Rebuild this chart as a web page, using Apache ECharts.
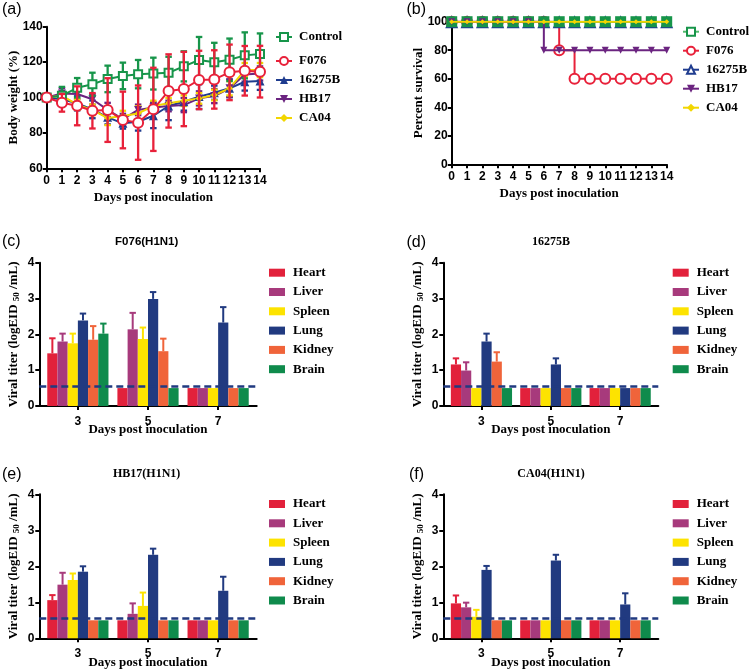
<!DOCTYPE html>
<html><head><meta charset="utf-8">
<script src="https://cdn.jsdelivr.net/npm/echarts@6/dist/echarts.min.js"></script>
<style>html,body{margin:0;padding:0;background:#fff}#c{width:750px;height:671px}</style>
</head><body><div id="c"></div>
<script>
// ---------- DATA ----------
const days = [0,1,2,3,4,5,6,7,8,9,10,11,12,13,14];
const groups = ['Control','F076','16275B','HB17','CA04'];

const weightControl    = [100,101,105.5,107.5,110.5,112.2,113.2,113.5,114,117.6,121.2,119.9,121.3,123.8,124.6];
const weightControlErr = [0,5,5.5,6.5,7.5,7.5,8,9,9,8.5,13,11,12,13,11.6];
const weightF076       = [100,97,95.3,92.5,92.9,87.3,85.8,93.3,103.7,104.8,109.9,110.2,114.2,115.1,114.6];
const weightF076Err    = [0,5,11,10,18,16,21,23.5,20.7,21,16.5,16.5,15.7,14,14.6];
const weight16275B     = [100,99,96.7,93.3,88.8,85.4,86.3,89.7,95.2,97.6,100.5,102.7,105.2,108.9,109.3];
const weight16275BErr  = [0,3,4,5,4,3,5,7,8,5,7,4,5,5,5];
const weightHB17       = [100,102.3,102,99,93,87.8,93,94.4,95.2,95.7,99.5,100.8,105.2,113,113.6];
const weightHB17Err    = [0,3,3,3,4,3,3,3,3,4,4,4,5,4,4];
const weightCA04       = [100,101,96,93,88.4,89.5,91,95.2,96.7,98.2,99.5,101.4,105.2,115.5,115.5];
const weightCA04Err    = [0,2,3,3,4,3,4,3,3,3,3,3,4,4,4];

const survControl = [100,100,100,100,100,100,100,100,100,100,100,100,100,100,100];
const survF076    = [100,100,100,100,100,100,100,80,60,60,60,60,60,60,60];
const surv16275B  = [100,100,100,100,100,100,100,100,100,100,100,100,100,100,100];
const survHB17    = [100,100,100,100,100,100,80,80,80,80,80,80,80,80,80];
const survCA04    = [100,100,100,100,100,100,100,100,100,100,100,100,100,100,100];

const titerDays = [3,5,7];
const organs = ['Heart','Liver','Spleen','Lung','Kidney','Brain'];
// rows: organs, columns: days 3,5,7
const titerF076 = [[1.47,0.5,0.5],[1.80,2.14,0.5],[1.75,1.87,0.5],[2.39,2.99,2.33],[1.85,1.53,0.5],[2.02,0.5,0.5]];
const titerF076Err = [[0.42,0,0],[0.22,0.46,0],[0.27,0.32,0],[0.19,0.19,0.43],[0.38,0.35,0],[0.28,0,0]];
const titer16275B = [[1.16,0.5,0.5],[0.99,0.5,0.5],[0.5,0.5,0.5],[1.80,1.16,0.5],[1.24,0.5,0.5],[0.5,0.5,0.5]];
const titer16275BErr = [[0.17,0,0],[0.23,0,0],[0,0,0],[0.22,0.17,0],[0.26,0,0],[0,0,0]];
const titerHB17 = [[1.06,0.5,0.5],[1.49,0.68,0.5],[1.62,0.90,0.5],[1.85,2.32,1.32],[0.5,0.5,0.5],[0.5,0.5,0.5]];
const titerHB17Err = [[0.14,0,0],[0.33,0.29,0],[0.18,0.37,0],[0.15,0.17,0.39],[0,0,0],[0,0,0]];
const titerCA04 = [[0.97,0.5,0.5],[0.86,0.5,0.5],[0.60,0.5,0.5],[1.90,2.16,0.94],[0.5,0.5,0.5],[0.5,0.5,0.5]];
const titerCA04Err = [[0.22,0,0],[0.13,0,0],[0.19,0,0],[0.11,0.16,0.31],[0,0,0],[0,0,0]];
const detectionLimit = 0.55;

const weightTicks = [60,80,100,120,140];
const survivalTicks = [0,20,40,60,80,100];
const titerTicks = [0,1,2,3,4];

// ---------- STYLE ----------
const sans = 'Liberation Sans, Arial, sans-serif';
const serif = 'Liberation Serif, Times New Roman, serif';
const groupColors = ['#17954a','#e8213a','#1f3c8f','#6b2480','#f2d600'];
const organColors = ['#e2213b','#a73a7c','#fde300','#213a80','#f0643a','#0f8b4c'];
const barW = 10.2;

const chart = echarts.init(document.getElementById('c'), null, {renderer:'canvas'});

const gridBoxes = [
  {left:46.7, top:26.7, width:213.3, height:141.6},
  {left:451.7, top:21.7, width:215, height:142.6},
  {left:39.3, top:262.7, width:217.4, height:143.3},
  {left:443.3, top:262.7, width:215, height:143.3},
  {left:39.3, top:494.3, width:217.4, height:144},
  {left:443.3, top:494.3, width:215, height:144}
];
const grid = gridBoxes.map(g => Object.assign({containLabel:false, outerBoundsMode:'none'}, g));

const axisLine = {show:true, onZero:false, lineStyle:{color:'#000', width:2}};
const axisTick = {show:true, inside:false, length:4, lineStyle:{color:'#000', width:2}};
const lbl = m => ({color:'#000', fontFamily:sans, fontWeight:'bold', fontSize:12, margin:m});
const nameStyle = {color:'#000', fontFamily:serif, fontWeight:'bold', fontSize:13};

const xAxis = [];
const yAxis = [];
[0,1].forEach(i => {
  xAxis.push({gridIndex:i, type:'value', min:0, max:14, interval:1, axisLine, axisTick,
    axisLabel:lbl(6.5), splitLine:{show:false}, name:'Days post inoculation',
    nameLocation:'middle', nameMoveOverlap:false, nameGap:23, nameTextStyle:nameStyle});
});
yAxis.push({gridIndex:0, type:'value', min:weightTicks[0], max:weightTicks[weightTicks.length-1], interval:20,
  axisLine, axisTick, axisLabel:lbl(4), splitLine:{show:false}, name:'Body weight (%)',
  nameLocation:'middle', nameMoveOverlap:false, nameRotate:90, nameGap:27, nameTextStyle:nameStyle});
yAxis.push({gridIndex:1, type:'value', min:survivalTicks[0], max:survivalTicks[survivalTicks.length-1], interval:20,
  axisLine, axisTick, axisLabel:lbl(4), splitLine:{show:false}, name:'Percent survival',
  nameLocation:'middle', nameMoveOverlap:false, nameRotate:90, nameGap:27, nameTextStyle:nameStyle});
[2,3,4,5].forEach(i => {
  xAxis.push({gridIndex:i, type:'value', min:1.9, max:8.1, axisLine,
    axisTick:Object.assign({customValues:titerDays}, axisTick),
    axisLabel:Object.assign({customValues:titerDays}, lbl(9.5)), splitLine:{show:false},
    name:'Days post inoculation', nameLocation:'middle', nameMoveOverlap:false, nameGap:17.5, nameTextStyle:nameStyle});
  yAxis.push({gridIndex:i, type:'value', min:titerTicks[0], max:titerTicks[titerTicks.length-1], interval:1,
    axisLine, axisTick, axisLabel:lbl(5), splitLine:{show:false},
    name:'Viral titer (logEID {sub|50} /mL)', nameLocation:'middle', nameMoveOverlap:false, nameRotate:90, nameGap:18.5,
    nameTextStyle:Object.assign({}, nameStyle, {rich:{sub:{fontFamily:serif, fontWeight:'bold', fontSize:9, color:'#000', padding:[6,0,0,0]}}})});
});

const series = [];

// error bar renderer (symmetric)
function symErr(color, capW, lw){
  return function(params, api){
    const x = api.value(0), y = api.value(1), e = api.value(2);
    if (!(e > 0)) return null;
    const lo = api.coord([x, y - e]), hi = api.coord([x, y + e]);
    const st = {stroke:color, lineWidth:lw};
    return {type:'group', children:[
      {type:'line', shape:{x1:lo[0], y1:lo[1], x2:hi[0], y2:hi[1]}, style:st},
      {type:'line', shape:{x1:hi[0]-capW/2, y1:hi[1], x2:hi[0]+capW/2, y2:hi[1]}, style:st},
      {type:'line', shape:{x1:lo[0]-capW/2, y1:lo[1], x2:lo[0]+capW/2, y2:lo[1]}, style:st}
    ]};
  };
}
function barErr(k, color){
  return function(params, api){
    const x = api.value(0), y = api.value(1), e = api.value(2);
    if (!(e > 0)) return null;
    const p0 = api.coord([x, y]), p1 = api.coord([x, y + e]);
    const cx = p0[0] + (k - 2.5) * barW;
    const st = {stroke:color, lineWidth:2};
    return {type:'group', children:[
      {type:'line', shape:{x1:cx, y1:p0[1], x2:cx, y2:p1[1]}, style:st},
      {type:'line', shape:{x1:cx-3.2, y1:p1[1], x2:cx+3.2, y2:p1[1]}, style:st}
    ]};
  };
}

// Panel (a)
const weightMeans = [weightControl, weightF076, weight16275B, weightHB17, weightCA04];
const weightErrs = [weightControlErr, weightF076Err, weight16275BErr, weightHB17Err, weightCA04Err];
const symA = [
  {symbol:'emptyRect', size:8, rotate:0},
  {symbol:'emptyCircle', size:10, rotate:0},
  {symbol:'triangle', size:9, rotate:0},
  {symbol:'triangle', size:8, rotate:180},
  {symbol:'diamond', size:7, rotate:0}
];
const zA = [4,6,3,3,3];
groups.forEach((g, i) => {
  series.push({type:'custom', xAxisIndex:0, yAxisIndex:0, z:zA[i], silent:true,
    renderItem:symErr(groupColors[i], 6.5, 2.3),
    data:days.map((d, j) => [d, weightMeans[i][j], weightErrs[i][j]])});
  series.push({type:'line', name:g, xAxisIndex:0, yAxisIndex:0, z:zA[i]+0.5,
    symbol:symA[i].symbol, symbolSize:symA[i].size, symbolRotate:symA[i].rotate, showAllSymbol:true,
    itemStyle:{color:groupColors[i], borderWidth:2}, lineStyle:{color:groupColors[i], width:2},
    data:days.map((d, j) => [d, weightMeans[i][j]])});
});

// Panel (b)
const survs = [survControl, survF076, surv16275B, survHB17, survCA04];
const survLine = ['#52b86c','#e8213a','#1f3c8f','#6b2480','#f2d600'];
const symB = [
  {symbol:'rect', size:11, rotate:0, z:5},
  {symbol:'emptyCircle', size:10, rotate:0, z:3},
  {symbol:'triangle', size:13, rotate:0, z:4},
  {symbol:'triangle', size:7, rotate:180, z:6},
  {symbol:'diamond', size:5, rotate:0, z:7}
];
groups.forEach((g, i) => {
  series.push({type:'line', name:g + ' ', xAxisIndex:1, yAxisIndex:1, z:symB[i].z, step:'end',
    symbol:symB[i].symbol, symbolSize:symB[i].size, symbolRotate:symB[i].rotate, showAllSymbol:true,
    itemStyle:{color:groupColors[i], borderWidth:2.2}, lineStyle:{color:survLine[i], width:2},
    data:days.map((d, j) => [d, survs[i][j]])});
});

// Panels (c)-(f)
const titerPanels = [
  [titerF076, titerF076Err],
  [titer16275B, titer16275BErr],
  [titerHB17, titerHB17Err],
  [titerCA04, titerCA04Err]
];
titerPanels.forEach((p, pi) => {
  const ax = pi + 2;
  organs.forEach((org, k) => {
    const s = {type:'bar', name:org, xAxisIndex:ax, yAxisIndex:ax, barWidth:barW, barGap:'0%', z:2,
      itemStyle:{color:organColors[k]},
      data:titerDays.map((d, j) => [d, p[0][k][j]])};
    if (k === organs.length - 1) {
      s.markLine = {silent:true, symbol:'none', z:10, label:{show:false},
        lineStyle:{color:'#213a80', width:2.6, type:[7,4]},
        data:[{yAxis:detectionLimit}]};
    }
    series.push(s);
    series.push({type:'custom', xAxisIndex:ax, yAxisIndex:ax, z:3, silent:true,
      renderItem:barErr(k, organColors[k]),
      data:titerDays.map((d, j) => [d, p[0][k][j], p[1][k][j]])});
  });
});

// Legends
const legText = {fontFamily:serif, fontWeight:'bold', fontSize:13, color:'#000', lineHeight:14, padding:[0,0,0,2]};
const hollow = c => ({color:'#fff', borderColor:c, borderWidth:2});
const legend = [
  {left:275, top:30, padding:0, orient:'vertical', itemWidth:16, itemHeight:10, itemGap:5, textStyle:legText,
    data:['Control'], selectedMode:false},
  {left:275, top:54, padding:0, orient:'vertical', itemWidth:16, itemHeight:10, itemGap:5, textStyle:legText,
    data:['F076','16275B','HB17','CA04'], selectedMode:false},
  {left:682, top:24.7, padding:0, orient:'vertical', itemWidth:16, itemHeight:10, itemGap:5, textStyle:legText,
    data:[{name:'Control ', itemStyle:hollow(groupColors[0])},'F076 ',{name:'16275B ', itemStyle:hollow(groupColors[2])},'HB17 ','CA04 '], selectedMode:false}
];
const barLegendPos = [[269,265.7],[672.7,265.7],[269,497],[672.7,497]];
barLegendPos.forEach(pos => {
  legend.push({left:pos[0], top:pos[1], padding:0, orient:'vertical', itemWidth:16, itemHeight:8, itemGap:5.3,
    icon:'rect', textStyle:Object.assign({}, legText, {padding:[0,0,0,3]}), data:organs, selectedMode:false});
});

// Panel labels and titles
const txt = (x, y, text, font, size, weight, align) => ({type:'text', x, y, silent:true,
  style:{text, fontFamily:font, fontSize:size, fontWeight:weight, fill:'#000', align:align||'left', verticalAlign:'middle'}});
const graphic = [
  txt(2, 10, '(a)', sans, 16, 'normal'),
  txt(406.5, 10, '(b)', sans, 16, 'normal'),
  txt(2, 241.3, '(c)', sans, 16, 'normal'),
  txt(406.5, 242.5, '(d)', sans, 16, 'normal'),
  txt(2, 475, '(e)', sans, 16, 'normal'),
  txt(409, 475, '(f)', sans, 16, 'normal'),
  txt(146.7, 242.3, 'F076(H1N1)', sans, 11.5, 'bold', 'center'),
  txt(551, 242.3, '16275B', serif, 12, 'bold', 'center'),
  txt(146.7, 474.3, 'HB17(H1N1)', serif, 12, 'bold', 'center'),
  txt(551, 474.3, 'CA04(H1N1)', serif, 12, 'bold', 'center')
];

chart.setOption({
  animation:false,
  backgroundColor:'#fff',
  grid, xAxis, yAxis, legend, graphic, series
});
</script>
</body></html>
